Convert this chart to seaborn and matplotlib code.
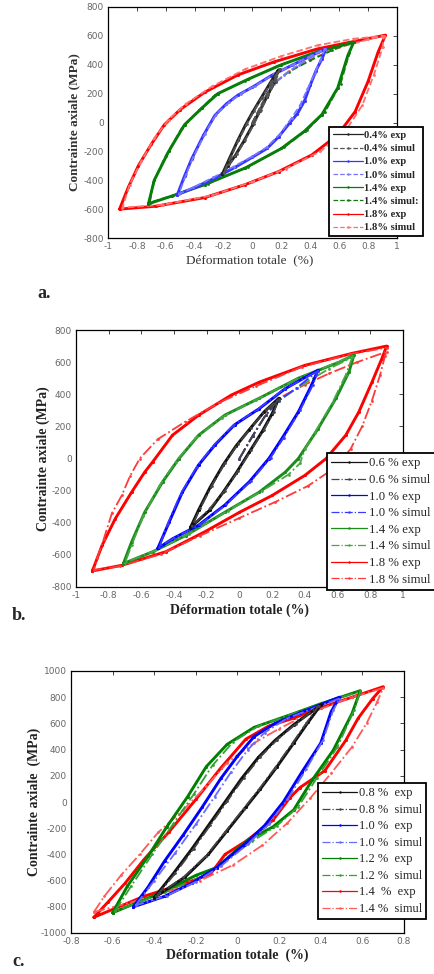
import matplotlib
matplotlib.use("Agg")
import matplotlib.pyplot as plt
import seaborn as sns

# ---------------- Panel a data (strain %, stress MPa) ----------------
A04_EXP_X = [-0.21, -0.16, -0.10, -0.05, 0.00, 0.06, 0.12, 0.18, 0.15, 0.10, 0.05, 0.00, -0.06, -0.12, -0.17, -0.21]
A04_EXP_Y = [-360, -250, -120, -20, 70, 170, 270, 365, 280, 180, 80, -20, -130, -230, -300, -360]
A04_SIM_X = [0.00, 0.05, 0.10, 0.15, 0.19, 0.16, 0.11, 0.06, 0.01, -0.05, -0.11, -0.16, -0.20, -0.15, -0.09, -0.04, 0.01, 0.07, 0.13, 0.19]
A04_SIM_Y = [0, 100, 200, 290, 370, 290, 190, 90, -10, -120, -220, -290, -350, -240, -110, -10, 80, 180, 280, 370]

A10_EXP_X = [-0.52, -0.47, -0.42, -0.34, -0.26, -0.18, -0.10, 0.00, 0.13, 0.27, 0.40, 0.51,
             0.48, 0.44, 0.40, 0.36, 0.31, 0.26, 0.18, 0.10, 0.00, -0.12, -0.26, -0.40, -0.52]
A10_EXP_Y = [-500, -370, -250, -90, 50, 130, 190, 245, 325, 395, 460, 513,
             440, 360, 260, 150, 60, 0, -100, -180, -240, -310, -385, -450, -500]
A10_SIM_X = [0.00, 0.08, 0.15, 0.22, 0.32, 0.42, 0.50,
             0.47, 0.43, 0.38, 0.33, 0.27, 0.19, 0.10, 0.00, -0.13, -0.27, -0.41, -0.51,
             -0.46, -0.41, -0.33, -0.25, -0.16, -0.08, 0.02, 0.15, 0.28, 0.41, 0.50]
A10_SIM_Y = [0, 150, 270, 330, 400, 460, 510,
             430, 340, 230, 120, 30, -80, -170, -235, -305, -380, -450, -495,
             -360, -240, -80, 60, 140, 200, 255, 335, 400, 465, 510]

A14_EXP_X = [-0.72, -0.68, -0.58, -0.47, -0.35, -0.24, -0.03, 0.20, 0.45, 0.70,
             0.66, 0.59, 0.48, 0.36, 0.20, -0.05, -0.33, -0.56, -0.72]
A14_EXP_Y = [-563, -400, -200, -15, 100, 200, 300, 400, 490, 555,
             465, 240, 55, -60, -180, -315, -430, -510, -563]
A14_SIM_X = [0.00, 0.08, 0.16, 0.25, 0.40, 0.55, 0.70,
             0.67, 0.61, 0.50, 0.38, 0.22, -0.03, -0.31, -0.55, -0.71,
             -0.69, -0.60, -0.49, -0.37, -0.26, -0.05, 0.18, 0.44, 0.70]
A14_SIM_Y = [0, 150, 280, 350, 430, 500, 560,
             480, 270, 70, -50, -170, -305, -425, -505, -555,
             -420, -230, -40, 85, 190, 290, 395, 485, 560]

A18_EXP_X = [-0.92, -0.86, -0.79, -0.70, -0.61, -0.50, -0.33, -0.10, 0.15, 0.45, 0.72, 0.92,
             0.87, 0.80, 0.71, 0.59, 0.41, 0.18, -0.05, -0.33, -0.67, -0.92]
A18_EXP_Y = [-600, -450, -300, -150, -15, 90, 210, 330, 420, 510, 565, 605,
             490, 285, 75, -85, -225, -340, -430, -520, -580, -600]
A18_SIM_X = [0.00, 0.08, 0.16, 0.25, 0.40, 0.60, 0.80, 0.91,
             0.90, 0.84, 0.76, 0.65, 0.47, 0.23, 0.00, -0.28, -0.62, -0.90,
             -0.85, -0.77, -0.68, -0.58, -0.46, -0.28, -0.05, 0.20, 0.45, 0.70, 0.91]
A18_SIM_Y = [0, 150, 280, 355, 440, 520, 575, 600,
             520, 330, 120, -50, -200, -320, -410, -505, -570, -590,
             -430, -270, -110, 20, 130, 250, 370, 460, 535, 580, 600]

# ---------------- Panel b data ----------------
B06_EXP_X = [-0.30, -0.25, -0.18, -0.10, -0.02, 0.06, 0.15, 0.24, 0.20, 0.14, 0.06, -0.02, -0.10, -0.18, -0.30]
B06_EXP_Y = [-430, -320, -180, -40, 80, 180, 290, 375, 280, 170, 40, -90, -210, -320, -430]
B06_SIM_X = [0.00, 0.08, 0.16, 0.24, 0.21, 0.15, 0.07, -0.01, -0.09, -0.18, -0.29,
             -0.24, -0.17, -0.09, -0.01, 0.07, 0.16, 0.24]
B06_SIM_Y = [0, 140, 270, 370, 290, 180, 50, -80, -200, -310, -420,
             -310, -170, -30, 90, 190, 300, 370]

B10_EXP_X = [-0.50, -0.43, -0.35, -0.25, -0.15, -0.03, 0.12, 0.28, 0.48,
             0.44, 0.36, 0.26, 0.18, 0.06, -0.09, -0.25, -0.41, -0.50]
B10_EXP_Y = [-560, -395, -210, -40, 85, 210, 310, 435, 550,
             455, 290, 125, 0, -145, -290, -415, -500, -560]
B10_SIM_X = [0.00, 0.08, 0.16, 0.24, 0.35, 0.48,
             0.45, 0.37, 0.27, 0.19, 0.07, -0.08, -0.24, -0.40, -0.49,
             -0.44, -0.36, -0.26, -0.16, -0.04, 0.11, 0.27, 0.48]
B10_SIM_Y = [0, 140, 270, 360, 440, 545,
             460, 300, 130, 5, -140, -285, -410, -495, -550,
             -410, -220, -50, 80, 205, 305, 430, 545]

B14_EXP_X = [-0.71, -0.66, -0.58, -0.47, -0.37, -0.25, -0.09, 0.12, 0.36, 0.61, 0.70,
             0.67, 0.59, 0.48, 0.36, 0.28, 0.12, -0.09, -0.33, -0.53, -0.71]
B14_EXP_Y = [-654, -520, -335, -145, 0, 145, 270, 375, 500, 600, 644,
             540, 375, 185, 0, -85, -210, -335, -480, -580, -654]
B14_SIM_X = [0.00, 0.08, 0.16, 0.24, 0.40, 0.55, 0.69,
             0.65, 0.57, 0.46, 0.40, 0.37, 0.30, 0.14, -0.07, -0.31, -0.52, -0.70,
             -0.66, -0.59, -0.49, -0.39, -0.27, -0.11, 0.10, 0.35, 0.60, 0.69]
B14_SIM_Y = [0, 140, 270, 360, 470, 560, 630,
             520, 350, 160, 60, -30, -100, -200, -325, -470, -575, -648,
             -540, -360, -170, -20, 125, 255, 365, 495, 600, 640]

B18_EXP_X = [-0.90, -0.84, -0.76, -0.66, -0.58, -0.53, -0.41, -0.25, -0.05, 0.12, 0.40, 0.69, 0.90,
             0.87, 0.81, 0.73, 0.65, 0.53, 0.40, 0.20, 0.00, -0.21, -0.45, -0.72, -0.90]
B18_EXP_Y = [-700, -540, -375, -210, -85, -20, 145, 270, 395, 475, 580, 655, 700,
             620, 475, 290, 145, 0, -105, -230, -335, -455, -580, -665, -700]
B18_SIM_X = [0.00, 0.08, 0.16, 0.24, 0.40, 0.55, 0.72, 0.90,
             0.89, 0.86, 0.81, 0.75, 0.68, 0.58, 0.42, 0.22, 0.00, -0.24, -0.48, -0.73, -0.89,
             -0.87, -0.83, -0.78, -0.72, -0.67, -0.61, -0.50, -0.33, -0.12, 0.10, 0.38, 0.68, 0.90]
B18_SIM_Y = [0, 140, 270, 375, 460, 530, 600, 665,
             640, 520, 360, 200, 60, -60, -170, -270, -370, -480, -595, -670, -695,
             -620, -500, -340, -230, -110, 0, 120, 230, 350, 450, 570, 650, 690]

# ---------------- Panel c data ----------------
C08_EXP_X = [-0.40, -0.31, -0.22, -0.14, -0.06, 0.02, 0.10, 0.18, 0.27, 0.40,
             0.34, 0.27, 0.19, 0.11, 0.04, -0.05, -0.14, -0.25, -0.40]
C08_EXP_Y = [-730, -550, -360, -180, 0, 180, 340, 470, 590, 740,
             610, 450, 270, 100, -40, -220, -400, -570, -730]
C08_SIM_X = [-0.39, -0.30, -0.21, -0.13, -0.05, 0.03, 0.11, 0.19, 0.28, 0.39,
             0.33, 0.26, 0.18, 0.10, 0.03, -0.06, -0.15, -0.26, -0.39]
C08_SIM_Y = [-720, -545, -355, -175, 5, 185, 345, 475, 595, 735,
             600, 440, 260, 90, -50, -230, -410, -575, -720]

C10_EXP_X = [-0.50, -0.43, -0.35, -0.26, -0.17, -0.08, 0.00, 0.08, 0.18, 0.30, 0.49,
             0.45, 0.40, 0.31, 0.22, 0.13, 0.03, -0.10, -0.22, -0.35, -0.50]
C10_EXP_Y = [-800, -650, -450, -250, -40, 180, 350, 500, 600, 680, 800,
             690, 450, 230, 0, -180, -330, -500, -620, -720, -800]
C10_SIM_X = [-0.49, -0.40, -0.30, -0.20, -0.11, -0.03, 0.05, 0.13, 0.24, 0.49,
             0.46, 0.41, 0.33, 0.24, 0.15, 0.05, -0.08, -0.20, -0.34, -0.49]
C10_SIM_Y = [-790, -600, -390, -170, 40, 230, 400, 530, 640, 790,
             700, 470, 250, 20, -170, -320, -490, -610, -715, -790]

C12_EXP_X = [-0.60, -0.53, -0.43, -0.34, -0.24, -0.15, -0.05, 0.08, 0.27, 0.40, 0.59,
             0.55, 0.46, 0.36, 0.27, 0.17, 0.05, -0.10, -0.20, -0.37, -0.60]
C12_EXP_Y = [-845, -645, -415, -190, 40, 270, 440, 570, 675, 750, 850,
             675, 395, 170, -60, -190, -290, -500, -560, -695, -845]
C12_SIM_X = [-0.59, -0.51, -0.41, -0.31, -0.21, -0.12, -0.02, 0.10, 0.28, 0.42, 0.59,
             0.56, 0.48, 0.38, 0.29, 0.19, 0.07, -0.08, -0.16, -0.35, -0.59]
C12_SIM_Y = [-835, -640, -400, -170, 60, 280, 460, 580, 680, 760, 845,
             700, 420, 180, -40, -180, -300, -470, -560, -690, -835]

C14_EXP_X = [-0.69, -0.62, -0.54, -0.45, -0.33, -0.20, -0.08, 0.04, 0.15, 0.27, 0.40, 0.55, 0.70,
             0.65, 0.58, 0.52, 0.42, 0.30, 0.25, 0.17, 0.04, -0.06, -0.13, -0.25, -0.45, -0.69]
C14_EXP_Y = [-880, -760, -620, -440, -230, 20, 260, 480, 580, 640, 720, 800, 880,
             790, 640, 470, 240, 110, 30, -140, -300, -400, -550, -620, -720, -880]
C14_SIM_X = [-0.69, -0.64, -0.56, -0.47, -0.38, -0.26, -0.15, -0.05, 0.08, 0.20, 0.35, 0.55, 0.70,
             0.67, 0.62, 0.55, 0.45, 0.35, 0.24, 0.12, -0.02, -0.18, -0.40, -0.69]
C14_SIM_Y = [-840, -720, -560, -400, -230, -60, 120, 300, 450, 560, 680, 800, 870,
             760, 600, 420, 220, 30, -160, -330, -480, -600, -720, -840]

# ---------------- labels / ticks ----------------
A_LABELS = ["0.4% exp", "0.4% simul", "1.0% exp", "1.0% simul",
            "1.4% exp", "1.4% simul:", "1.8% exp", "1.8% simul"]
B_LABELS = ["0.6 % exp", "0.6 % simul", "1.0 % exp", "1.0 % simul",
            "1.4 % exp", "1.4 % simul", "1.8 % exp", "1.8 % simul"]
C_LABELS = ["0.8 %  exp", "0.8 %  simul", "1.0 %  exp", "1.0 %  simul",
            "1.2 %  exp", "1.2 %  simul", "1.4  %  exp", "1.4 %  simul"]
AB_XTICKS = [-1, -0.8, -0.6, -0.4, -0.2, 0, 0.2, 0.4, 0.6, 0.8, 1]
AB_XTICK_LABELS = ["-1", "-0.8", "-0.6", "-0.4", "-0.2", "0", "0.2", "0.4", "0.6", "0.8", "1"]
AB_YTICKS = [-800, -600, -400, -200, 0, 200, 400, 600, 800]
C_XTICKS = [-0.8, -0.6, -0.4, -0.2, 0, 0.2, 0.4, 0.6, 0.8]
C_XTICK_LABELS = ["-0.8", "-0.6", "-0.4", "-0.2", "0", "0.2", "0.4", "0.6", "0.8"]
C_YTICKS = [-1000, -800, -600, -400, -200, 0, 200, 400, 600, 800, 1000]
YLABEL = "Contrainte axiale (MPa)"
C_YLABEL = "Contrainte axiale  (MPa)"
XLABEL = "Déformation totale  (%)"
B_XLABEL = "Déformation totale (%)"

sns.set_style("white")
plt.rcParams["font.family"] = ["Liberation Serif", "DejaVu Serif"]
plt.rcParams["axes.unicode_minus"] = False

W, H = 435, 974
fig = plt.figure(figsize=(W / 100, H / 100), dpi=100)


def axes_px(l, t, r, b):
    return fig.add_axes([l / W, 1 - b / H, (r - l) / W, (b - t) / H])


def draw(ax, series, ls_sim):
    handles = []
    for (xe, ye, ce, xs, ys, cs) in series:
        sns.lineplot(x=xe, y=ye, sort=False, estimator=None, ax=ax, color=ce,
                     linewidth=2.1, marker=".", markersize=4.5, markeredgewidth=0)
        l1 = ax.lines[-1]
        sns.lineplot(x=xs, y=ys, sort=False, estimator=None, ax=ax, color=cs,
                     linewidth=1.3, linestyle=ls_sim, marker=".", markersize=4,
                     markeredgewidth=0)
        l2 = ax.lines[-1]
        handles += [l1, l2]
    return handles


def style_axes(ax, xt, xtl, yt, xlim, ylim):
    ax.set_xlim(*xlim)
    ax.set_ylim(*ylim)
    ax.set_xticks(xt)
    ax.set_xticklabels(xtl)
    ax.set_yticks(yt)
    ax.set_yticklabels([str(v) for v in yt])
    ax.tick_params(direction="in", top=True, right=True, length=3, width=0.6,
                   labelsize=6.5, labelcolor="#666666", pad=3)
    for s in ax.spines.values():
        s.set_color("black")
        s.set_linewidth(0.9)
    for t in ax.get_xticklabels() + ax.get_yticklabels():
        t.set_family(["DejaVu Sans"])


def legend(ax, handles, labels, x, y, fs, weight, hl, spacing):
    order = [6, 7, 4, 5, 2, 3, 0, 1]
    hs = [handles[i] for i in order]
    leg = ax.legend(hs, labels, loc="upper left", bbox_to_anchor=(x / W, 1 - y / H),
                    bbox_transform=fig.transFigure, frameon=True, fancybox=False,
                    framealpha=1, edgecolor="black", borderpad=0.35, labelspacing=spacing,
                    handlelength=hl, handletextpad=0.1, borderaxespad=0,
                    prop={"family": ["Liberation Serif"], "size": fs, "weight": weight})
    leg.get_frame().set_linewidth(1.3)
    for ln in leg.get_lines():
        ln.set_linewidth(0.9)
        ln.set_markersize(3.5)
    return leg


# ---------------- Panel a ----------------
axa = axes_px(108, 7, 397, 238)
ha = draw(axa, [
    (A18_EXP_X, A18_EXP_Y, "#ff0000", A18_SIM_X, A18_SIM_Y, "#ff7070"),
    (A14_EXP_X, A14_EXP_Y, "#008000", A14_SIM_X, A14_SIM_Y, "#107a10"),
    (A10_EXP_X, A10_EXP_Y, "#3535ff", A10_SIM_X, A10_SIM_Y, "#7878ff"),
    (A04_EXP_X, A04_EXP_Y, "#222222", A04_SIM_X, A04_SIM_Y, "#555555"),
], "--")
style_axes(axa, AB_XTICKS, AB_XTICK_LABELS, AB_YTICKS, (-1, 1), (-800, 800))
axa.set_xlabel(XLABEL, fontsize=9.5, color="#333333")
axa.set_ylabel(YLABEL, fontsize=9.5, color="#333333", fontweight="bold")
axa.xaxis.set_label_coords(0.49, -0.07)
axa.yaxis.set_label_coords(-0.097, 0.5)
legend(axa, ha, A_LABELS, 329, 127, 7.6, "bold", 2.9, 0.36)
fig.text(37 / W, 1 - 293 / H, "a.", fontsize=13, fontweight="bold", va="center")

# ---------------- Panel b ----------------
axb = axes_px(76, 330, 403, 587)
hb = draw(axb, [
    (B18_EXP_X, B18_EXP_Y, "#ff0000", B18_SIM_X, B18_SIM_Y, "#ff3a3a"),
    (B14_EXP_X, B14_EXP_Y, "#1a8c1a", B14_SIM_X, B14_SIM_Y, "#45a845"),
    (B10_EXP_X, B10_EXP_Y, "#0000ff", B10_SIM_X, B10_SIM_Y, "#3a3aff"),
    (B06_EXP_X, B06_EXP_Y, "#111111", B06_SIM_X, B06_SIM_Y, "#444444"),
], "-.")
style_axes(axb, AB_XTICKS, AB_XTICK_LABELS, AB_YTICKS, (-1, 1), (-800, 800))
axb.set_xlabel(B_XLABEL, fontsize=10, fontweight="bold", color="#222222")
axb.set_ylabel(YLABEL, fontsize=10, fontweight="bold", color="#222222")
axb.xaxis.set_label_coords(0.5, -0.065)
axb.yaxis.set_label_coords(-0.079, 0.5)
legend(axb, hb, B_LABELS, 327, 453, 9.2, "normal", 2.8, 0.36)
fig.text(12 / W, 1 - 615 / H, "b.", fontsize=13, fontweight="bold", va="center")

# ---------------- Panel c ----------------
axc = axes_px(71, 671, 404, 933)
hc = draw(axc, [
    (C14_EXP_X, C14_EXP_Y, "#ff0000", C14_SIM_X, C14_SIM_Y, "#ff5a5a"),
    (C12_EXP_X, C12_EXP_Y, "#008000", C12_SIM_X, C12_SIM_Y, "#35a035"),
    (C10_EXP_X, C10_EXP_Y, "#0000ff", C10_SIM_X, C10_SIM_Y, "#6a6aff"),
    (C08_EXP_X, C08_EXP_Y, "#111111", C08_SIM_X, C08_SIM_Y, "#444444"),
], "-.")
style_axes(axc, C_XTICKS, C_XTICK_LABELS, C_YTICKS, (-0.8, 0.8), (-1000, 1000))
axc.set_xlabel(XLABEL, fontsize=10, fontweight="bold", color="#222222")
axc.set_ylabel(C_YLABEL, fontsize=10, fontweight="bold", color="#222222")
axc.xaxis.set_label_coords(0.5, -0.06)
axc.yaxis.set_label_coords(-0.09, 0.5)
legend(axc, hc, C_LABELS, 318, 783, 9.0, "normal", 2.8, 0.36)
fig.text(12 / W, 1 - 962 / H, "c.", fontsize=13, fontweight="bold", va="center")

fig.savefig("out.png", dpi=100)
